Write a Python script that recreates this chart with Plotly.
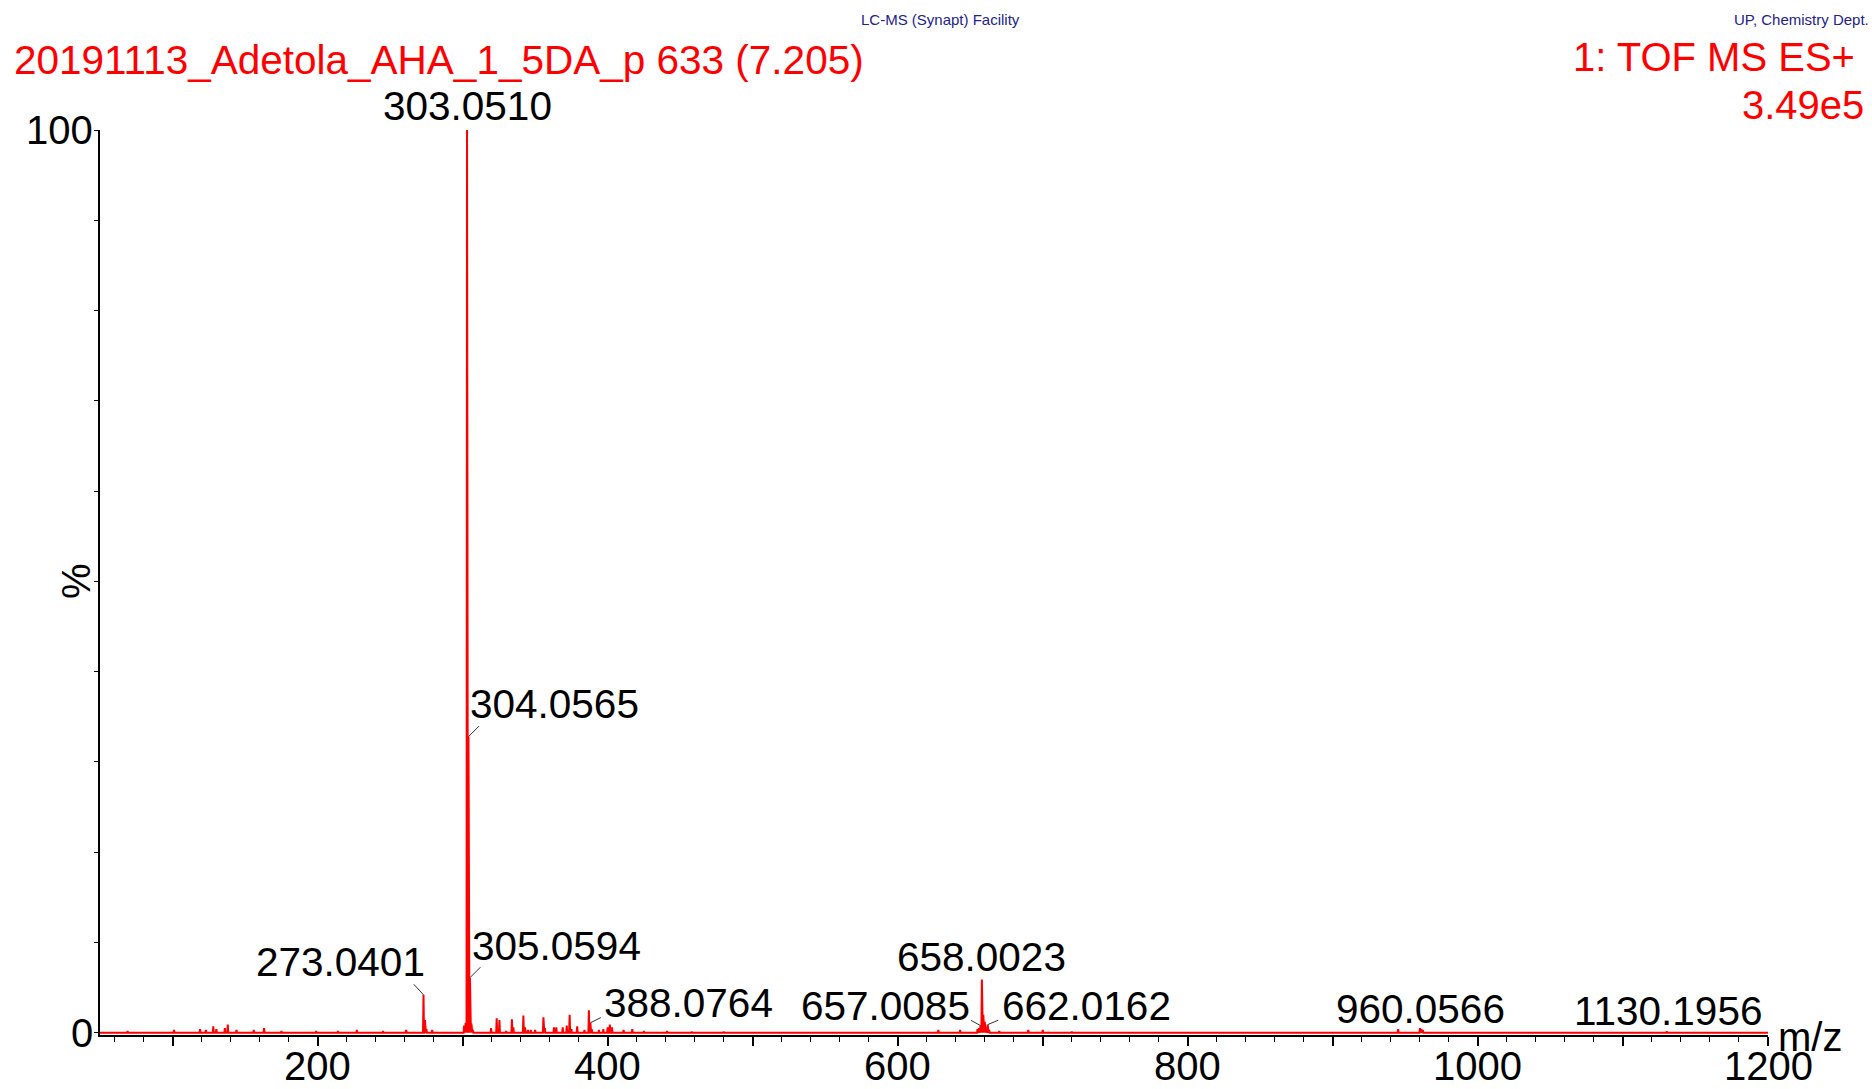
import plotly.graph_objects as go

# ---------------- data ----------------
peak_mz = [
    69.0, 101.0, 119.0, 123.0, 128.1, 130.2, 136.1, 138.1, 144.1, 156.0, 163.1,
    175.1, 199.0, 214.1, 227.1, 245.1, 261.1,
    273.0401, 274.04, 275.04, 279.0,
    301.04, 302.05, 303.0510, 304.0565, 305.0594, 306.06, 307.06,
    319.6, 323.5, 325.4, 330.0, 334.0, 335.0, 341.9, 343.0, 345.0, 347.0, 350.0,
    355.7, 356.7, 363.0, 364.6, 369.0, 371.8, 373.8, 375.0, 379.0, 384.0,
    387.07, 388.0764, 389.0, 394.0, 397.0, 400.0, 401.5, 403.0, 411.0, 417.0,
    425.0, 441.0, 458.0, 480.0,
    628.0, 643.0, 655.0, 656.0, 657.0085, 658.0023, 659.0, 660.0, 661.0,
    662.0162, 663.0, 670.0, 690.0, 700.0, 720.0,
    945.0, 960.0566, 961.0, 962.0, 1130.1956,
]
peak_int = [
    0.2, 0.3, 0.4, 0.3, 0.7, 0.4, 0.5, 0.9, 0.3, 0.3, 0.5,
    0.2, 0.2, 0.2, 0.3, 0.2, 0.3,
    4.2, 1.4, 0.4, 0.3,
    0.8, 1.1, 100.0, 32.8, 6.1, 1.0, 0.3,
    0.5, 1.6, 1.4, 0.2, 1.5, 0.6, 1.9, 0.6, 0.3, 0.3, 0.3,
    1.7, 0.5, 0.6, 0.6, 0.6, 0.8, 2.0, 0.4, 0.7, 0.3,
    2.5, 1.1, 0.4, 0.3, 0.4, 0.6, 0.9, 0.6, 0.3, 0.4,
    0.2, 0.2, 0.1, 0.1,
    0.3, 0.3, 0.4, 0.5, 0.8, 5.9, 2.0, 1.2, 0.6,
    0.9, 0.3, 0.2, 0.3, 0.3, 0.1,
    0.4, 0.5, 0.4, 0.3, 0.15,
]
label_mz = [303.0510, 304.0565, 305.0594, 273.0401, 388.0764,
            657.0085, 658.0023, 662.0162, 960.0566, 1130.1956]
x_major_ticks = [100, 200, 300, 400, 500, 600, 700, 800, 900, 1000, 1100, 1200]
x_tick_labels = [200, 400, 600, 800, 1000, 1200]
y_ticks = [0, 10, 20, 30, 40, 50, 60, 70, 80, 90, 100]
y_tick_labels = [0, 100]

title_text = "20191113_Adetola_AHA_1_5DA_p 633 (7.205)"
mode_text = "1: TOF MS ES+"
scale_text = "3.49e5"
facility_text = "LC-MS (Synapt) Facility"
dept_text = "UP, Chemistry Dept."

# ---------------- layout constants ----------------
W, H = 1872, 1089
ML, MR, MT, MB = 100, 104, 130, 54
PW, PH = W - ML - MR, H - MT - MB
FONT = "Liberation Sans, Arial, sans-serif"
RED = "#FF0000"
BLUE = "#22228f"
LABEL_SIZE = 40.5
TICK_SIZE = 40

# label placement: xanchor, xshift, yshift, leader dx, leader dy (pixels)
LABEL_STYLE = {
    "303.0510": ("center", 0, 24, None, None),
    "304.0565": ("left", 0, 33, 12, -12),
    "305.0594": ("left", 0, 32, 12, -12),
    "273.0401": ("right", 3, 33, -11, -12),
    "388.0764": ("left", 12, 20, 12, -6),
    "657.0085": ("right", -8, 20, -11, -6),
    "658.0023": ("center", 0, 22, None, None),
    "662.0162": ("left", 12, 19, 12, -5),
    "960.0566": ("center", 1, 19, None, None),
    "1130.1956": ("center", 1, 20, None, None),
}


def paper(xpx, ypx):
    return (xpx - ML) / PW, (H - MB - ypx) / PH


# ---------------- spectrum path ----------------
X_MIN, X_MAX = 50, 1200
pairs = sorted(zip(peak_mz, peak_int))
xs, ys = [X_MIN], [0]
for m, h in pairs:
    xs += [m - 0.35, m, m + 0.35]
    ys += [0, h, 0]
xs.append(X_MAX)
ys.append(0)

fig = go.Figure()
fig.add_trace(go.Scatter(x=xs, y=ys, mode="lines",
                         line=dict(color=RED, width=2),
                         hoverinfo="skip", showlegend=False))

height_of = dict(pairs)
annotations = []
for m in label_mz:
    txt = f"{m:.4f}"
    h = height_of[m]
    xa, xsh, ysh, ldx, ldy = LABEL_STYLE[txt]
    annotations.append(dict(x=m, y=h, xref="x", yref="y", text=txt,
                            showarrow=False, xanchor=xa, yanchor="middle",
                            xshift=xsh, yshift=ysh,
                            font=dict(family=FONT, size=LABEL_SIZE, color="black")))
    if ldx is not None:
        annotations.append(dict(x=m, y=h, xref="x", yref="y", text="",
                                showarrow=True, arrowhead=0, arrowwidth=1,
                                arrowcolor="#333333", ax=ldx, ay=ldy,
                                axref="pixel", ayref="pixel", standoff=0))

# tick labels (placed as annotations for exact positioning)
_, y_lab = paper(0, 1066)
for v in x_tick_labels:
    annotations.append(dict(x=v, y=y_lab, xref="x", yref="paper", text=str(v),
                            showarrow=False, xanchor="center", yanchor="middle",
                            font=dict(family=FONT, size=TICK_SIZE, color="black")))
x_lab, _ = paper(95, 0)
for v in y_tick_labels:
    annotations.append(dict(x=x_lab, y=v, xref="paper", yref="y", text=str(v),
                            showarrow=False, xanchor="right", yanchor="middle",
                            font=dict(family=FONT, size=TICK_SIZE, color="black")))

# header texts
for txt, xpx, ypx, xa, size, color in [
    (title_text, 12, 60, "left", 40.5, RED),
    (mode_text, 1857, 57, "right", 40, RED),
    (scale_text, 1866, 105, "right", 40, RED),
    (facility_text, 940, 19, "center", 15, BLUE),
    (dept_text, 1871, 19, "right", 15, BLUE),
]:
    px_, py_ = paper(xpx, ypx)
    annotations.append(dict(x=px_, y=py_, xref="paper", yref="paper", text=txt,
                            showarrow=False, xanchor=xa, yanchor="middle",
                            font=dict(family=FONT, size=size, color=color)))

# axis titles
px_, py_ = paper(76, 581)
annotations.append(dict(x=px_, y=py_, xref="paper", yref="paper", text="%",
                        showarrow=False, textangle=-90, xanchor="center",
                        yanchor="middle",
                        font=dict(family=FONT, size=TICK_SIZE, color="black")))
px_, py_ = paper(1810, 1037)
annotations.append(dict(x=px_, y=py_, xref="paper", yref="paper", text="m/z",
                        showarrow=False, xanchor="center", yanchor="middle",
                        font=dict(family=FONT, size=TICK_SIZE, color="black")))

fig.update_layout(
    width=W, height=H,
    margin=dict(l=ML, r=MR, t=MT, b=MB, pad=0, autoexpand=False),
    paper_bgcolor="white", plot_bgcolor="white",
    showlegend=False,
    annotations=annotations,
    xaxis=dict(range=[X_MIN, X_MAX], showgrid=False, zeroline=False,
               automargin=False, showticklabels=False,
               showline=True, linecolor="black", linewidth=2,
               ticks="outside", ticklen=9, tickwidth=1.5, tickcolor="black",
               tickmode="array", tickvals=x_major_ticks,
               minor=dict(dtick=20, tick0=0, ticks="outside", ticklen=5,
                          tickwidth=1.2, tickcolor="black", showgrid=False)),
    yaxis=dict(range=[-0.25, 100], showgrid=False, zeroline=False,
               automargin=False, showticklabels=False,
               showline=True, linecolor="black", linewidth=2,
               ticks="outside", ticklen=4, tickwidth=1.2, tickcolor="black",
               tickmode="array", tickvals=y_ticks),
)

fig.write_html(
    "out.html",
    config={"displayModeBar": False},
    post_script="document.body.style.margin='0';"
                "document.body.style.padding='0';"
                "document.body.style.overflow='hidden';",
)
